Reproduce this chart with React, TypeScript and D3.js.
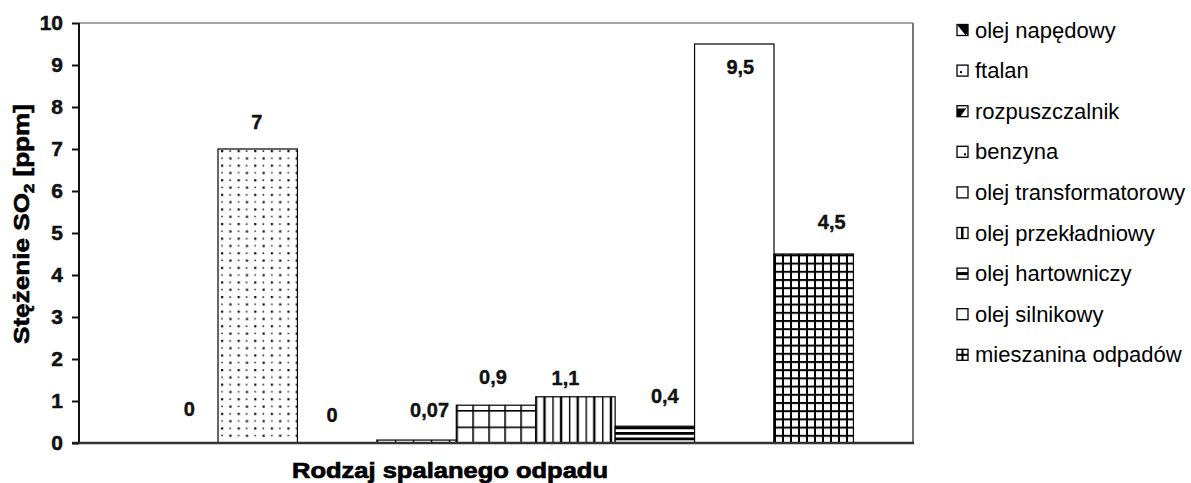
import React, { useEffect, useRef } from "react";
import * as d3 from "d3";

const categories = [
  "olej napędowy",
  "ftalan",
  "rozpuszczalnik",
  "benzyna",
  "olej transformatorowy",
  "olej przekładniowy",
  "olej hartowniczy",
  "olej silnikowy",
  "mieszanina odpadów",
];
const values = [0, 7, 0, 0.07, 0.9, 1.1, 0.4, 9.5, 4.5];
const valueLabels = ["0", "7", "0", "0,07", "0,9", "1,1", "0,4", "9,5", "4,5"];
const yTicks = [0, 1, 2, 3, 4, 5, 6, 7, 8, 9, 10];
const patternIds = ["none", "dots", "none", "thinv", "grid16", "vstripes", "hstripes", "none", "grid8"];

// label nudges (dx, dy from default placement above bar top)
const labelNudge: [number, number][] = [
  [11, -4], [-1, 3], [-5, 2], [13, 0], [-3, 2], [-10, 11], [10, 0], [6, 53], [18, -2],
];

const W = 1191;
const H = 483;
const left = 79;
const right = 913;
const top = 23;
const bottom = 443;
const FONT = "'Liberation Sans', Arial, sans-serif";

export default function App() {
  const axisRef = useRef<SVGGElement>(null);

  const x = d3.scaleBand<string>().domain(categories).range([left, right]).paddingInner(0).paddingOuter(0.75);
  const y = d3.scaleLinear().domain([0, 10]).range([bottom, top]);

  useEffect(() => {
    if (!axisRef.current) return;
    const g = d3.select(axisRef.current);
    g.selectAll("*").remove();
    g.call(
      d3.axisLeft(y).tickValues(yTicks).tickSize(7).tickPadding(9).tickFormat((d) => String(d))
    );
    g.select(".domain").remove();
    g.selectAll(".tick line").attr("stroke", "#111").attr("stroke-width", 2);
    g.selectAll(".tick text")
      .attr("font-family", FONT)
      .attr("font-size", 21)
      .attr("font-weight", "bold")
      .attr("fill", "#111")
      .attr("stroke", "#111")
      .attr("stroke-width", 0.5);
  }, []);

  const bw = x.bandwidth();
  const legendY0 = 30;
  const legendStep = 40.6;

  const legendIcon = (id: number) => {
    const s = 11;
    const parts: React.ReactNode[] = [];
    switch (id) {
      case 0:
        parts.push(<polygon key="p" points={`0,0 ${s},0 ${s},${s}`} fill="#000" />);
        parts.push(<polygon key="q" points={`0,0 ${s},${s * 0.2} ${s * 0.8},${s}`} fill="#000" />);
        break;
      case 1:
        parts.push(<rect key="d" x={3} y={6} width={2} height={2} fill="#000" />);
        break;
      case 2:
        parts.push(<polygon key="p" points={`0,${s} 0,${s * 0.25} ${s * 0.75},${s * 0.25} ${s},0 ${s * 0.3},${s} `} fill="#000" />);
        break;
      case 3:
        parts.push(<rect key="d" x={7} y={7} width={2} height={2} fill="#000" />);
        break;
      case 5:
        parts.push(<rect key="v" x={4} y={0} width={2.5} height={s} fill="#000" />);
        break;
      case 6:
        parts.push(<rect key="h" x={0} y={4} width={s} height={3} fill="#000" />);
        break;
      case 8:
        parts.push(<rect key="v" x={4.5} y={0} width={2} height={s} fill="#000" />);
        parts.push(<rect key="h" x={0} y={4.5} width={s} height={2} fill="#000" />);
        break;
    }
    return parts;
  };

  return (
    <svg
      width={W}
      height={H}
      style={{ position: "absolute", left: 0, top: 0, background: "#fff" }}
      xmlns="http://www.w3.org/2000/svg"
    >
      <defs>
        {categories.map((c, i) => {
          const x0 = x(c) as number;
          const pid = patternIds[i];
          if (pid === "dots")
            return (
              <pattern key={i} id={`pat${i}`} patternUnits="userSpaceOnUse" x={x0 + 2} y={bottom - 2} width={16.6} height={14.6}>
                <rect width={16.6} height={14.6} fill="#fff" />
                <rect x={1} y={1} width={2.2} height={2.2} fill="#111" />
                <rect x={9.3} y={1.3} width={1.6} height={1.6} fill="#222" />
                <rect x={1.2} y={8.5} width={1.6} height={1.4} fill="#222" />
                <rect x={9.3} y={8.3} width={2.2} height={2.2} fill="#111" />
              </pattern>
            );
          if (pid === "grid16")
            return (
              <pattern key={i} id={`pat${i}`} patternUnits="userSpaceOnUse" x={x0} y={bottom} width={16} height={16.5}>
                <rect width={16} height={16.5} fill="#fff" />
                <rect x={0} y={0} width={1.6} height={16.5} fill="#000" />
                <rect x={0} y={0} width={16} height={1.6} fill="#000" />
              </pattern>
            );
          if (pid === "grid8")
            return (
              <pattern key={i} id={`pat${i}`} patternUnits="userSpaceOnUse" x={x0} y={bottom} width={8} height={8.2}>
                <rect width={8} height={8.2} fill="#fff" />
                <rect x={0} y={0} width={2} height={8.2} fill="#000" />
                <rect x={0} y={0} width={8} height={2} fill="#000" />
              </pattern>
            );
          if (pid === "vstripes")
            return (
              <pattern key={i} id={`pat${i}`} patternUnits="userSpaceOnUse" x={x0} y={0} width={16.6} height={10}>
                <rect width={16.6} height={10} fill="#fff" />
                <rect x={0} y={0} width={1.4} height={10} fill="#000" />
                <rect x={7.6} y={0} width={2.4} height={10} fill="#000" />
              </pattern>
            );
          if (pid === "hstripes")
            return (
              <pattern key={i} id={`pat${i}`} patternUnits="userSpaceOnUse" x={0} y={bottom} width={10} height={5.5}>
                <rect width={10} height={5.5} fill="#fff" />
                <rect x={0} y={0} width={10} height={2.8} fill="#000" />
              </pattern>
            );
          if (pid === "thinv")
            return (
              <pattern key={i} id={`pat${i}`} patternUnits="userSpaceOnUse" x={x0} y={0} width={18} height={10}>
                <rect width={18} height={10} fill="#fff" />
                <rect x={0} y={0} width={1.3} height={10} fill="#000" />
              </pattern>
            );
          return null;
        })}
      </defs>

      {/* plot frame */}
      <line x1={left} x2={right} y1={top} y2={top} stroke="#8a8a8a" strokeWidth={1.5} />
      <line x1={right} x2={right} y1={top} y2={bottom} stroke="#777" strokeWidth={2} />

      {/* bars */}
      {categories.map((c, i) => {
        const v = values[i];
        if (v <= 0) return null;
        const x0 = x(c) as number;
        const pid = patternIds[i];
        return (
          <rect
            key={c}
            x={x0}
            y={y(v)}
            width={bw}
            height={bottom - y(v)}
            fill={pid === "none" ? "#fff" : `url(#pat${i})`}
            stroke="#000"
            strokeWidth={1.2}
          />
        );
      })}

      {/* axes */}
      <line x1={left} x2={left} y1={top} y2={bottom} stroke="#111" strokeWidth={2} />
      <line x1={left - 7} x2={right + 1} y1={bottom} y2={bottom} stroke="#333" strokeWidth={2.6} />
      <g ref={axisRef} transform={`translate(${left},0)`} />

      {/* value labels */}
      {categories.map((c, i) => {
        const cx = (x(c) as number) + bw / 2 + labelNudge[i][0];
        const cy = y(values[i]) - 30 + labelNudge[i][1];
        return (
          <text
            key={c}
            x={cx}
            y={cy}
            textAnchor="middle"
            dominantBaseline="central"
            fontFamily={FONT}
            fontSize={20}
            fontWeight="bold"
            fill="#111"
            stroke="#111"
            strokeWidth={0.4}
          >
            {valueLabels[i]}
          </text>
        );
      })}

      {/* axis titles */}
      <text
        x={450}
        y={478}
        textAnchor="middle"
        fontFamily={FONT}
        fontSize={22}
        fontWeight="bold"
        fill="#000"
        stroke="#000"
        strokeWidth={0.7}
        textLength={316}
        lengthAdjust="spacingAndGlyphs"
      >
        Rodzaj spalanego odpadu
      </text>
      <text
        transform="translate(29,224) rotate(-90)"
        textAnchor="middle"
        fontFamily={FONT}
        fontSize={22}
        fontWeight="bold"
        fill="#000"
        stroke="#000"
        strokeWidth={0.6}
        textLength={240}
        lengthAdjust="spacingAndGlyphs"
      >
        Stężenie SO
        <tspan fontSize={14} dy={5}>2</tspan>
        <tspan dy={-5}> [ppm]</tspan>
      </text>

      {/* legend */}
      {categories.map((c, i) => {
        const cy = legendY0 + i * legendStep;
        return (
          <g key={c} transform={`translate(957,${cy - 5.5})`}>
            <rect x={0} y={0} width={11} height={11} fill="#fff" />
            {legendIcon(i)}
            <rect x={0} y={0} width={11} height={11} fill="none" stroke="#000" strokeWidth={1.3} />
            <text x={18} y={5.5} dominantBaseline="central" fontFamily={FONT} fontSize={22} fill="#000">
              {c}
            </text>
          </g>
        );
      })}
    </svg>
  );
}
